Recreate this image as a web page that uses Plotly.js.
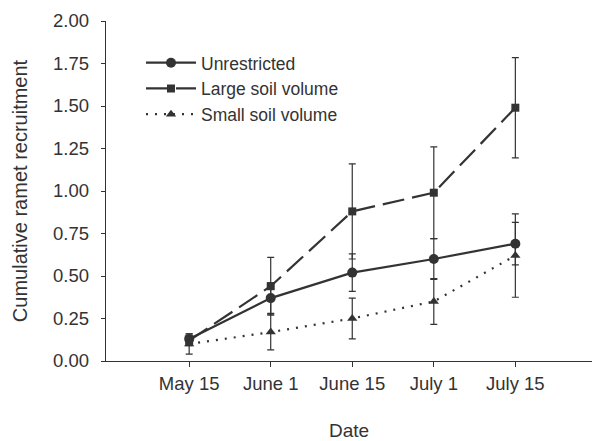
<!DOCTYPE html>
<html>
<head>
<meta charset="utf-8">
<script src="https://cdn.plot.ly/plotly-3.0.1.min.js"></script>
<style>html,body{margin:0;padding:0;background:#fff;}#chart{width:597px;height:441px;}</style>
</head>
<body>
<div id="chart"></div>
<script>
const dates = ["May 15", "June 1", "June 15", "July 1", "July 15"];
const unrestricted = [0.13, 0.37, 0.52, 0.60, 0.69];
const unrestrictedErr = [0.03, 0.09, 0.11, 0.12, 0.125];
const largeSoil = [0.12, 0.44, 0.88, 0.99, 1.49];
const largeSoilErr = [0.03, 0.17, 0.28, 0.27, 0.295];
const smallSoil = [0.10, 0.17, 0.25, 0.35, 0.62];
const smallSoilErr = [0.06, 0.105, 0.12, 0.135, 0.245];
const seriesNames = ["Unrestricted", "Large soil volume", "Small soil volume"];

const ink = "#333333";
function err(arr) {
  return {type: "data", array: arr, visible: true, color: ink, thickness: 1.2, width: 3.5};
}
const traces = [
  {x: dates, y: unrestricted, error_y: err(unrestrictedErr), name: seriesNames[0],
   mode: "lines+markers", line: {color: ink, width: 2.2},
   marker: {symbol: "circle", size: 10, color: ink}},
  {x: dates, y: largeSoil, error_y: err(largeSoilErr), name: seriesNames[1],
   mode: "lines+markers", line: {color: ink, width: 2.2, dash: "22px,8px"},
   marker: {symbol: "square", size: 8, color: ink}},
  {x: dates, y: smallSoil, error_y: err(smallSoilErr), name: seriesNames[2],
   mode: "lines+markers", line: {color: ink, width: 2.2, dash: "2px,7px"},
   marker: {symbol: "triangle-up", size: 9, color: ink}}
];
const layout = {
  width: 597, height: 441,
  margin: {l: 106, r: 5, t: 21, b: 80},
  paper_bgcolor: "#ffffff", plot_bgcolor: "#ffffff",
  font: {family: "Liberation Sans, Arial, sans-serif", color: "#333333", size: 18},
  showlegend: true,
  legend: {x: 0.072, y: 0.93, xanchor: "left", yanchor: "top", bgcolor: "rgba(0,0,0,0)",
           font: {size: 17.5, color: "#333333"}, itemwidth: 50, tracegroupgap: 0},
  xaxis: {type: "category", range: [-1.02, 4.94], showline: true, linecolor: ink, linewidth: 1.3,
          ticks: "outside", ticklen: 5, tickcolor: ink, showgrid: false, zeroline: false,
          tickfont: {size: 18.5},
          title: {text: "Date", font: {size: 19}, standoff: 34}},
  yaxis: {range: [0, 2.0], dtick: 0.25, tick0: 0, tickformat: ".2f", showline: true,
          linecolor: ink, linewidth: 1.3, ticks: "outside", ticklen: 4, tickcolor: ink,
          showgrid: false, zeroline: false, tickfont: {size: 18.5}, ticklabelstandoff: 8,
          title: {text: "Cumulative ramet recruitment", font: {size: 20}, standoff: 20}}
};
Plotly.newPlot("chart", traces, layout, {displayModeBar: false, staticPlot: true});
</script>
</body>
</html>
